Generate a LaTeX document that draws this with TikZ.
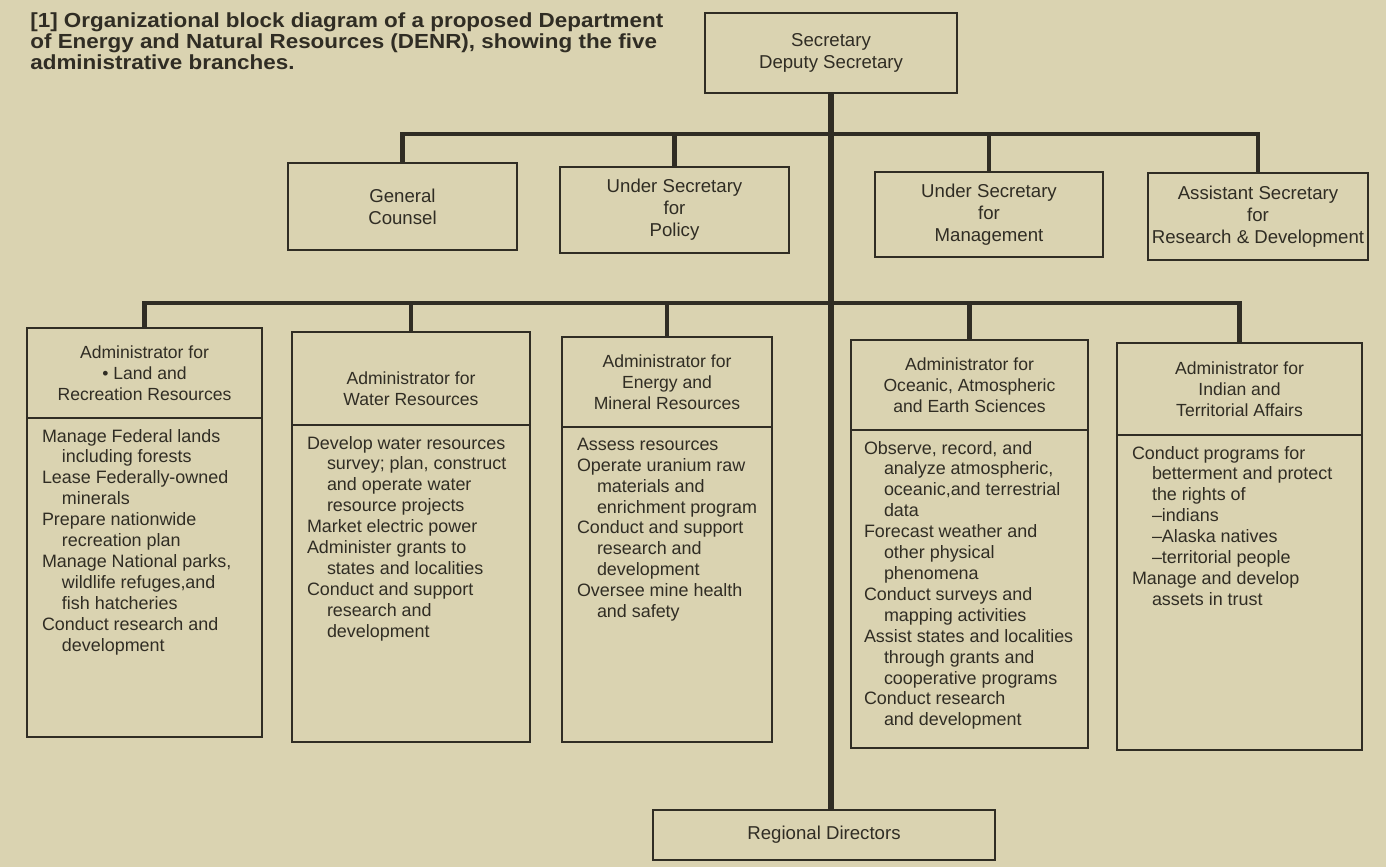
\documentclass[tikz,border=0pt]{standalone}
\usepackage{fontspec}
\newfontfamily\chartfont{Liberation Sans}
\usetikzlibrary{positioning}
\definecolor{paper}{RGB}{218,211,177}
\definecolor{ink}{RGB}{48,45,36}
% one duty: lines after the first hang in
\newcommand{\task}{\par\hangindent=0.4cm\hangafter=1\noindent}
\newcommand{\duties}[3]{\begin{minipage}[t][#1][t]{#2}\raggedright#3\end{minipage}}
\tikzset{
    %Define style for the boxes
    office/.style={
           rectangle,
           draw=ink, line width=1pt,
           outer sep=0pt,
           text=ink,
           align=center,
           inner sep=2pt,
           font=\chartfont\fontsize{10.6}{12.6}\selectfont},
    head/.style={
           office,
           anchor=north west,
           font=\chartfont\fontsize{10}{11.8}\selectfont},
    duty/.style={
           office,
           align=left,
           inner xsep=0.3cm, inner ysep=0.22cm,
           font=\chartfont\fontsize{10.2}{11.9}\selectfont},
    caption/.style={
           anchor=north west,
           inner sep=0pt,
           align=left,
           text=ink,
           xscale=1.1, transform shape,
           font=\chartfont\bfseries\fontsize{11.6}{11.9}\selectfont},
    % Define line styles
    bus/.style={
           draw=ink,
           line width=2.8pt},
    trunk/.style={
           draw=ink,
           line width=3pt}
}

\begin{document}
\begin{tikzpicture}
    \fill[paper] (0,0) rectangle (27.72,-17.34);
    \useasboundingbox (0,0) rectangle (27.72,-17.34);
 %caption
    \node[caption] (caption) at (0.6,-0.25) {[1] Organizational block diagram of a proposed Department\\of Energy and Natural Resources (DENR), showing the five\\administrative branches.};
 %top offices
    \node[office, anchor=north west, minimum width=5.04cm, minimum height=1.6cm] (sec) at (14.1,-0.26) {Secretary\\Deputy Secretary};
    \node[office, anchor=north west, minimum width=4.58cm, minimum height=1.74cm] (counsel) at (5.76,-3.26) {General\\Counsel};
    \node[office, anchor=north west, minimum width=4.58cm, minimum height=1.72cm] (policy) at (11.2,-3.34) {Under Secretary\\for\\Policy};
    \node[office, anchor=north west, minimum width=4.56cm, minimum height=1.70cm] (mgmt) at (17.5,-3.44) {Under Secretary\\for\\Management};
    \node[office, anchor=north west, minimum width=4.40cm, minimum height=1.74cm] (rnd) at (22.96,-3.46) {Assistant Secretary\\for\\Research \& Development};
 %administrators
    \node[head, minimum width=4.70cm, minimum height=1.80cm] (land) at (0.54,-6.56) {Administrator for\\• Land and\\Recreation Resources};
    \node[duty, minimum width=4.70cm, below=0pt of land] (landduty) {\duties{5.94cm}{4.1cm}{%
        \task Manage Federal lands\newline including forests
        \task Lease Federally-owned\newline minerals
        \task Prepare nationwide\newline recreation plan
        \task Manage National parks,\newline wildlife refuges,and\newline fish hatcheries
        \task Conduct research and\newline development}};
    \node[head, minimum width=4.76cm, minimum height=1.86cm] (water) at (5.84,-6.64) {\rule{0pt}{0.66cm}Administrator for\\Water Resources};
    \node[duty, minimum width=4.76cm, below=0pt of water] (waterduty) {\duties{5.90cm}{4.16cm}{%
        \task Develop water resources\newline survey; plan, construct\newline and operate water\newline resource projects
        \task Market electric power
        \task Administer grants to\newline states and localities
        \task Conduct and support\newline research and\newline development}};
    \node[head, minimum width=4.20cm, minimum height=1.80cm] (energy) at (11.24,-6.74) {Administrator for\\Energy and\\Mineral Resources};
    \node[duty, minimum width=4.20cm, below=0pt of energy] (energyduty) {\duties{5.86cm}{3.6cm}{%
        \task Assess resources
        \task Operate uranium raw\newline materials and\newline enrichment program
        \task Conduct and support\newline research and\newline development
        \task Oversee mine health\newline and safety}};
    \node[head, minimum width=4.74cm, minimum height=1.80cm] (ocean) at (17.02,-6.80) {Administrator for\\Oceanic, Atmospheric\\and Earth Sciences};
    \node[duty, inner xsep=0.26cm, minimum width=4.74cm, below=0pt of ocean] (oceanduty) {\duties{5.92cm}{4.22cm}{%
        \task Observe, record, and\newline analyze atmospheric,\newline oceanic,and terrestrial\newline data
        \task Forecast weather and\newline other physical\newline phenomena
        \task Conduct surveys and\newline mapping activities
        \task Assist states and localities\newline through grants and\newline cooperative programs
        \task Conduct research\newline and development}};
    \node[head, minimum width=4.90cm, minimum height=1.84cm] (indian) at (22.34,-6.86) {Administrator for\\Indian and\\Territorial Affairs};
    \node[duty, minimum width=4.90cm, below=0pt of indian] (indianduty) {\duties{5.86cm}{4.3cm}{%
        \task Conduct programs for\newline betterment and protect\newline the rights of\newline –indians\newline –Alaska natives\newline –territorial people
        \task Manage and develop\newline assets in trust}};
    \node[office, anchor=north west, minimum width=6.84cm, minimum height=1.0cm] (regional) at (13.06,-16.2) {Regional Directors};
 %edges
    \path (sec.south) ++(0,-0.82) coordinate (topjoint);
    \path (sec.south) ++(0,-4.2) coordinate (lowjoint);
    \draw[trunk] (sec.south) -- (sec.south |- regional.north);
    \draw[bus] (counsel.north) |- (topjoint) -| (rnd.north);
    \draw[bus] (policy.north) -- (policy.north |- topjoint);
    \draw[bus] (mgmt.north) -- (mgmt.north |- topjoint);
    \draw[bus] (land.north) |- (lowjoint) -| (indian.north);
    \draw[bus] (water.north) -- (water.north |- lowjoint);
    \draw[bus] (energy.north) -- (energy.north |- lowjoint);
    \draw[bus] (ocean.north) -- (ocean.north |- lowjoint);
\end{tikzpicture}
\end{document}
